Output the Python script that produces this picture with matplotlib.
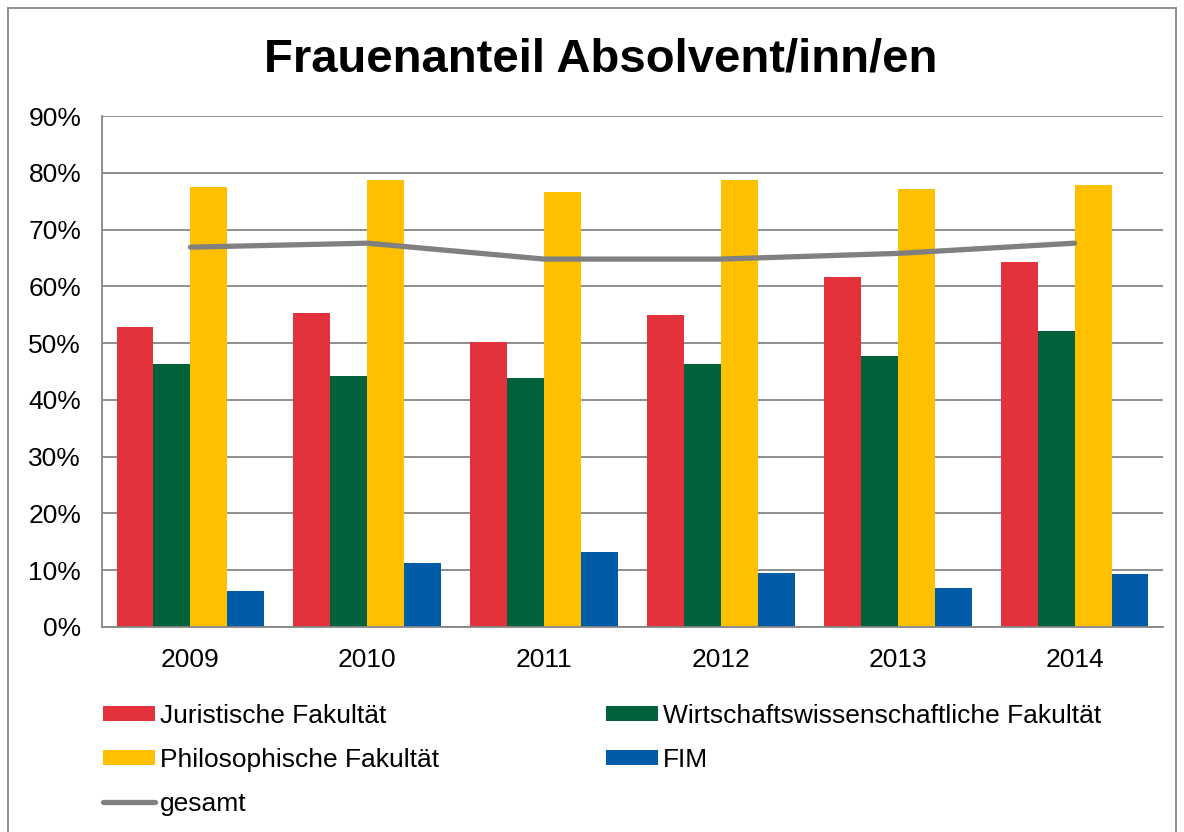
import numpy as np
import matplotlib.pyplot as plt
from matplotlib.lines import Line2D

years = ["2009", "2010", "2011", "2012", "2013", "2014"]
jur = [52.8, 55.3, 50.2, 54.9, 61.6, 64.3]
wiwi = [46.3, 44.2, 43.8, 46.3, 47.7, 52.1]
phil = [77.5, 78.7, 76.6, 78.7, 77.1, 77.8]
fim = [6.3, 11.3, 13.2, 9.5, 6.9, 9.3]
gesamt = [66.9, 67.6, 64.8, 64.8, 65.8, 67.6]

series = [
    ("Juristische Fakultät", jur, "#E3323B"),
    ("Wirtschaftswissenschaftliche Fakultät", wiwi, "#00613A"),
    ("Philosophische Fakultät", phil, "#FFC000"),
    ("FIM", fim, "#005CA6"),
]

plt.rcParams['font.family'] = ['Liberation Sans', 'DejaVu Sans']
fs = 19

fig = plt.figure(figsize=(11.84, 8.32), dpi=100)
ax = fig.add_axes([102 / 1184, 1 - 627 / 832, 1061 / 1184, 511 / 832])

x = np.arange(len(years))
w = 0.209
handles = {}
for i, (name, vals, col) in enumerate(series):
    b = ax.bar(x + (i - 1.5) * w, vals, width=w, color=col, zorder=2)
    handles[name] = b
ln, = ax.plot(x, gesamt, color="#808080", lw=3.8, solid_capstyle="round", zorder=3)

ax.set_xlim(-0.5, len(years) - 0.5)
ax.set_ylim(0, 90)
ax.set_yticks(range(0, 91, 10))
ax.set_yticklabels([f"{v}%" for v in range(0, 91, 10)], fontsize=fs)
ax.set_xticks(x)
ax.set_xticklabels(years, fontsize=fs)
ax.tick_params(axis='y', length=0, pad=15)
ax.tick_params(axis='x', length=0, pad=15)
ax.grid(axis='y', color="#868686", lw=1.3, zorder=0)
for s in ["top", "right"]:
    ax.spines[s].set_visible(False)
for s in ["left", "bottom"]:
    ax.spines[s].set_color("#868686")
    ax.spines[s].set_linewidth(1.3)

fig.text(601 / 1184, 1 - 60 / 832, "Frauenanteil Absolvent/inn/en", ha="center", va="center",
         fontsize=34, fontweight="bold")

order = [handles["Juristische Fakultät"], handles["Philosophische Fakultät"],
         Line2D([], [], color="#808080", lw=3.8, solid_capstyle="round"),
         handles["Wirtschaftswissenschaftliche Fakultät"], handles["FIM"]]
labels = ["Juristische Fakultät", "Philosophische Fakultät", "gesamt",
          "Wirtschaftswissenschaftliche Fakultät", "FIM"]
fig.legend(order, labels, ncol=2, loc="upper left", bbox_to_anchor=(103 / 1184, 1 - 704 / 832),
           frameon=False, fontsize=fs, handlelength=1.97, handleheight=0.53, handletextpad=0.2,
           columnspacing=6.3, labelspacing=0.75, borderaxespad=0, borderpad=0)

# chart border
bc = "#868686"
fig.add_artist(Line2D([8 / 1184, 8 / 1184], [0, 1 - 8 / 832], color=bc, lw=1.3, transform=fig.transFigure))
fig.add_artist(Line2D([8 / 1184, 1176 / 1184], [1 - 8 / 832, 1 - 8 / 832], color=bc, lw=1.3, transform=fig.transFigure))
fig.add_artist(Line2D([1176 / 1184, 1176 / 1184], [0, 1 - 8 / 832], color=bc, lw=1.3, transform=fig.transFigure))

fig.savefig("out.png", dpi=100)
